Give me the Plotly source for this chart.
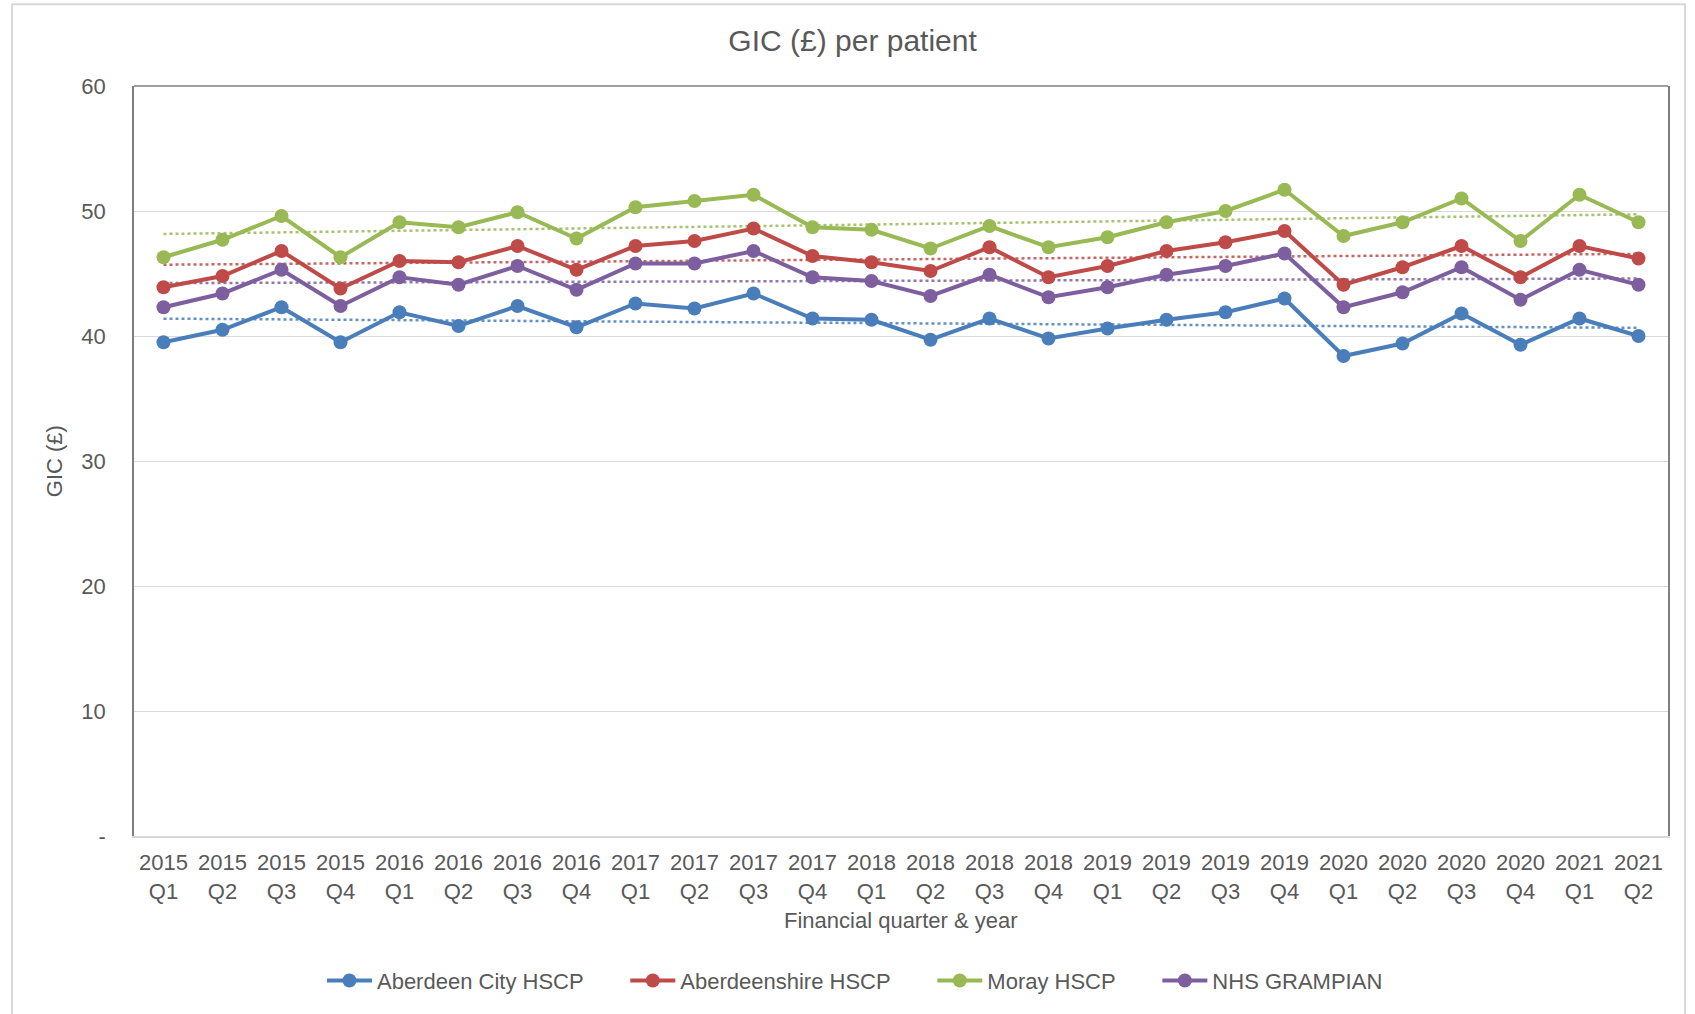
import numpy as np
import plotly.graph_objects as go

years = ["2015"] * 4 + ["2016"] * 4 + ["2017"] * 4 + ["2018"] * 4 + ["2019"] * 4 + ["2020"] * 4 + ["2021"] * 2
quarters = ["Q1", "Q2", "Q3", "Q4"] * 6 + ["Q1", "Q2"]
categories = [f"{y}<br>{q}" for y, q in zip(years, quarters)]

aberdeen_city = [39.5, 40.5, 42.3, 39.5, 41.9, 40.8, 42.4, 40.7, 42.6, 42.2, 43.4, 41.4, 41.3,
                 39.7, 41.4, 39.8, 40.6, 41.3, 41.9, 43.0, 38.4, 39.4, 41.8, 39.3, 41.4, 40.0]
aberdeenshire = [43.9, 44.8, 46.8, 43.8, 46.0, 45.9, 47.2, 45.3, 47.2, 47.6, 48.6, 46.4, 45.9,
                 45.2, 47.1, 44.7, 45.6, 46.8, 47.5, 48.4, 44.1, 45.5, 47.2, 44.7, 47.2, 46.2]
moray = [46.3, 47.7, 49.6, 46.3, 49.1, 48.7, 49.9, 47.8, 50.3, 50.8, 51.3, 48.7, 48.5,
         47.0, 48.8, 47.1, 47.9, 49.1, 50.0, 51.7, 48.0, 49.1, 51.0, 47.6, 51.3, 49.1]
nhs_grampian = [42.3, 43.4, 45.3, 42.4, 44.7, 44.1, 45.6, 43.7, 45.8, 45.8, 46.8, 44.7, 44.4,
                43.2, 44.9, 43.1, 43.9, 44.9, 45.6, 46.6, 42.3, 43.5, 45.5, 42.9, 45.3, 44.1]

series_names = ["Aberdeen City HSCP", "Aberdeenshire HSCP", "Moray HSCP", "NHS GRAMPIAN"]
series_values = [aberdeen_city, aberdeenshire, moray, nhs_grampian]
colors = ["#4A7EBB", "#BE4B48", "#98B954", "#7D5FA0"]

y_tickvals = [0, 10, 20, 30, 40, 50, 60]
y_ticktext = ["-", "10", "20", "30", "40", "50", "60"]

FONT = "Liberation Sans, Arial, sans-serif"
TXT = "#595959"
PAD = "&nbsp;" * 6

fig = go.Figure()

# linear trendlines (least squares, like Excel)
idx = np.arange(len(categories))
for name, vals, col in zip(series_names, series_values, colors):
    slope, intercept = np.polyfit(idx, np.array(vals), 1)
    fig.add_trace(go.Scatter(
        x=categories, y=slope * idx + intercept, mode="lines",
        line=dict(color=col, width=2.5, dash="dot"),
        showlegend=False, hoverinfo="skip", opacity=0.85,
    ))

for i, (name, vals, col) in enumerate(zip(series_names, series_values, colors)):
    label = name + (PAD if i < len(series_names) - 1 else "")
    fig.add_trace(go.Scatter(
        x=categories, y=vals, mode="lines+markers", name=label,
        line=dict(color=col, width=4),
        marker=dict(color=col, size=14),
    ))

fig.update_layout(
    width=1695, height=1014,
    margin=dict(l=134, r=27, t=86, b=176),
    paper_bgcolor="white", plot_bgcolor="white",
    font=dict(family=FONT, size=22, color=TXT),
    title=dict(text="GIC (£) per patient", x=0.503, xref="container", xanchor="center",
               y=1 - 40 / 1014, yref="container", yanchor="middle",
               font=dict(size=30, color=TXT, family=FONT)),
    showlegend=True,
    legend=dict(orientation="h", x=0.47, xanchor="center", y=-0.193, yanchor="middle",
                font=dict(size=22, color=TXT), itemwidth=45, traceorder="normal"),
    xaxis=dict(type="category", range=[-0.5, len(categories) - 0.5], showgrid=False,
               showline=True, linecolor="#d9d9d9", linewidth=1.5,
               ticks="", tickfont=dict(size=22, color=TXT), ticklabelstandoff=6, zeroline=False),
    yaxis=dict(range=[0, 60], tickvals=y_tickvals, ticktext=y_ticktext, showgrid=True,
               gridcolor="#d9d9d9", gridwidth=1, showline=True, mirror=True, linecolor="#7f7f7f",
               linewidth=1.5, ticks="", ticklabelstandoff=22, zeroline=False,
               tickfont=dict(size=22, color=TXT)),
    annotations=[
        dict(text="Financial quarter & year", x=0.5, y=-0.113, xref="paper", yref="paper",
             xanchor="center", yanchor="middle", showarrow=False, font=dict(size=22, color=TXT)),
        dict(text="GIC (£)", x=-0.052, y=0.5, xref="paper", yref="paper", textangle=-90,
             xanchor="center", yanchor="middle", showarrow=False, font=dict(size=22, color=TXT)),
    ],
    shapes=[
        dict(type="line", xref="paper", yref="paper", x0=0, x1=1, y0=1, y1=1,
             line=dict(color="#7f7f7f", width=1.5)),
        dict(type="rect", xref="paper", yref="paper", x0=(12 - 134) / 1534, x1=(1685 - 134) / 1534,
             y0=(838 - 1020) / 752, y1=(838 - 4) / 752, line=dict(color="#d9d9d9", width=2),
             layer="below"),
    ],
)

fig.write_html("out.html", config={"displayModeBar": False},
               post_script="document.body.style.margin='0';")
